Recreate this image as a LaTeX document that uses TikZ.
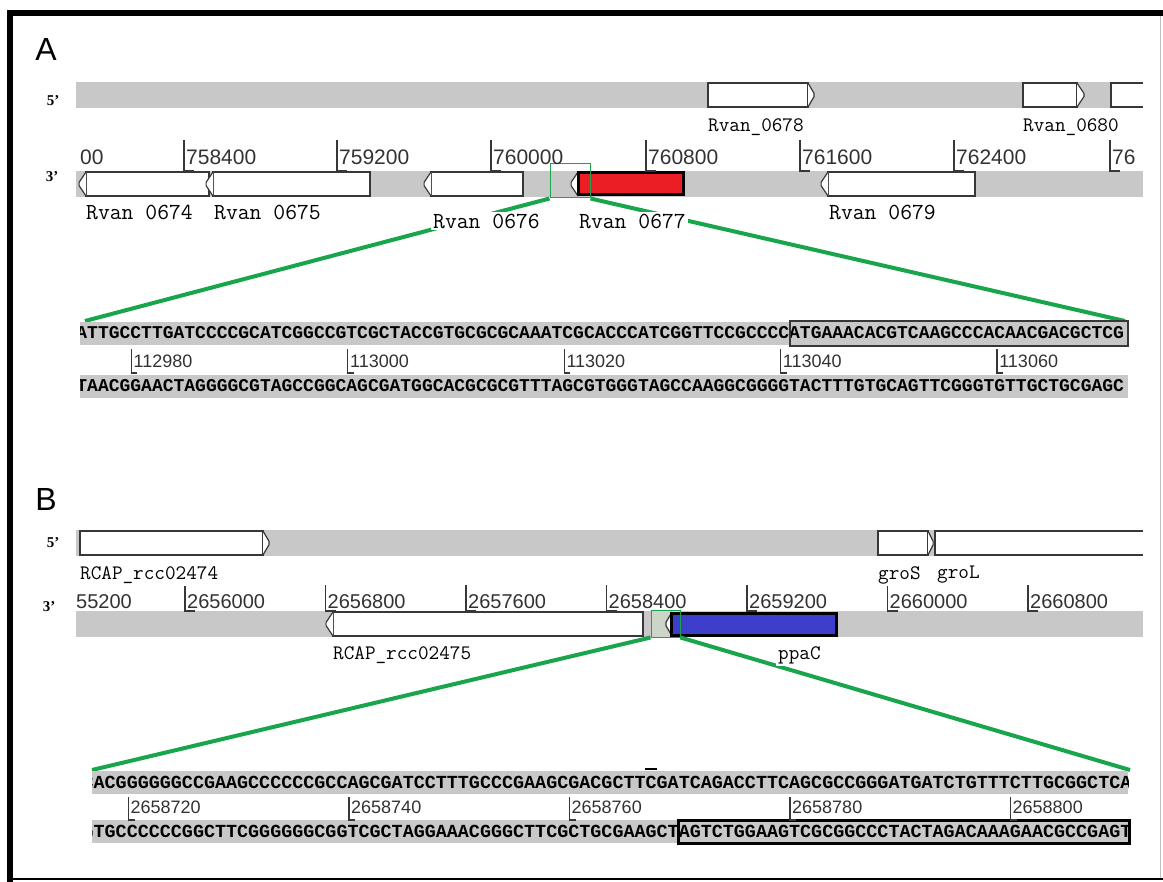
\documentclass[tikz,border=0pt]{standalone}
\usepackage{fontspec}
\setmainfont{Liberation Serif}
\setsansfont{Liberation Sans}
\setmonofont{Liberation Mono}
\newfontfamily\genefont{Latin Modern Mono}

\definecolor{strandgray}{RGB}{200,200,200}
\definecolor{geneline}{RGB}{55,55,55}
\definecolor{zoomgreen}{RGB}{25,165,75}
\definecolor{hitred}{RGB}{235,30,38}
\definecolor{hitblue}{RGB}{62,62,205}
\definecolor{ticktext}{RGB}{50,50,50}
\definecolor{boxfill}{RGB}{205,212,200}

\begin{document}
\begin{tikzpicture}[x=1pt,y=-1pt,
  strand/.style={fill=strandgray},
  gene/.style={draw=geneline,line width=1.4pt,fill=white},
  genetip/.style={draw=geneline,line width=1.2pt,fill=white,rounded corners=2pt},
  hitgene/.style={draw=black,line width=3pt},
  zoomline/.style={draw=zoomgreen,line width=4pt},
  zoombox/.style={draw=zoomgreen,line width=1pt,inner sep=0pt},
  tickmark/.style={draw=geneline,line width=1.2pt},
  ticklabel/.style={anchor=west,inner sep=1pt,text=ticktext,font=\sffamily\fontsize{20}{20}\selectfont},
  glabel/.style={anchor=west,inner sep=2pt,fill=white,font=\genefont\fontsize{20.6}{20.6}\selectfont},
  biglabel/.style={glabel,font=\genefont\fontsize{23}{23}\selectfont},
  seqtext/.style={anchor=base west,inner sep=0pt,font=\ttfamily\bfseries\fontsize{18}{18}\selectfont},
  strandlabel/.style={font=\rmfamily\bfseries\fontsize{15}{15}\selectfont},
  panel/.style={font=\sffamily\fontsize{32}{32}\selectfont}]

\useasboundingbox (0,0) rectangle (1163,882);

% frame
\draw[line width=6pt] (1163,13) -- (10,13) -- (10,882);
\draw[line width=2pt] (10,879) -- (1163,879);
\draw[black!25,line width=1pt] (1160,16) -- (1160,878);

%%%%%%%%%%%%%%%%%%%% A
\node[panel] (panA) at (46,49) {A};
\node[strandlabel] (a5) at (53,101) {5'};
\node[strandlabel] (a3) at (52,177) {3'};

\fill[strand] (76,82) rectangle (1143,108);
\fill[strand] (76,171) rectangle (1143,197);

% 5' strand genes
\draw[gene] (708,83) rectangle (808,107);
\draw[genetip] (808,83) -- (815,95) -- (808,107);
\draw[gene] (1023,83) rectangle (1077,107);
\draw[genetip] (1077,83) -- (1085,95) -- (1077,107);
\draw[gene] (1143,83) -- (1111,83) -- (1111,107) -- (1143,107);

% 3' strand genes
\foreach \a/\b in {86/209, 213/370, 431/523, 828/975}{
	\draw[gene] (\a,172) rectangle (\b,196);
	\draw[genetip] (\a,172) -- (\a-8,184) -- (\a,196);
}
% Rvan 0677
\draw[genetip] (578,172) -- (570,184) -- (578,196);
\draw[hitgene,fill=hitred] (578,173) rectangle (683,195);
\node[zoombox,minimum width=40,minimum height=34] (zoomA) at (570,181) {};

% ruler
\foreach \x/\n in {184/758400,337/759200,491/760000,646/760800,800/761600,954/762400}{
	\draw[tickmark] (\x,140) -- (\x,171) -- (\x+10,171);
	\node[ticklabel,font=\sffamily\fontsize{21}{21}\selectfont] (ta\n) at (\x+1,157) {\n};
}
\draw[tickmark] (1110,140) -- (1110,171) -- (1120,171);
\node[ticklabel,font=\sffamily\fontsize{21}{21}\selectfont] (ta76) at (1111,157) {76};
\node[ticklabel,font=\sffamily\fontsize{21}{21}\selectfont] (ta00) at (79,157) {00};

% sequence A
\coordinate (seqAnw) at (85,321);
\coordinate (seqAne) at (1125,321);
\draw[zoomline] (zoomA.south west) -- (seqAnw);
\draw[zoomline] (zoomA.south east) -- (seqAne);

\fill[strand] (80,322) rectangle (1128,345);
\fill[strand] (80,375) rectangle (1128,398);
\begin{scope}
\clip (80,300) rectangle (1128,420);
\node[seqtext] (seqAtop) at (76.2,339) {ATTGCCTTGATCCCCGCATCGGCCGTCGCTACCGTGCGCGCAAATCGCACCCATCGGTTCCGCCCCATGAAACACGTCAAGCCCACAACGACGCTCG};
\node[seqtext] (seqAbot) at (76.2,392) {TAACGGAACTAGGGGCGTAGCCGGCAGCGATGGCACGCGCGTTTAGCGTGGGTAGCCAAGGCGGGGTACTTTGTGCAGTTCGGGTGTTGCTGCGAGC};
\end{scope}
\draw[geneline,line width=1.5pt] (790,321) rectangle (1128,346);

\foreach \i/\n in {0/112980,1/113000,2/113020,3/113040,4/113060}{
	\draw[tickmark] (131.4+216.4*\i,349) -- (131.4+216.4*\i,373) -- (137.4+216.4*\i,373);
	\node[ticklabel,font=\sffamily\fontsize{18}{18}\selectfont] (sa\n) at (132.5+216.4*\i,361) {\n};
}

% gene names
\node[glabel] (n678) at (706,127) {Rvan\_0678};
\node[glabel] (n680) at (1021,127) {Rvan\_0680};
\node[biglabel] (n674) at (84,212) {Rvan 0674};
\node[biglabel] (n675) at (212,212) {Rvan 0675};
\node[biglabel] (n676) at (431,221) {Rvan 0676};
\node[biglabel] (n677) at (577,221) {Rvan 0677};
\node[biglabel] (n679) at (827,212) {Rvan 0679};

%%%%%%%%%%%%%%%%%%%% B
\node[panel] (panB) at (46,499) {B};
\node[strandlabel] (b5) at (53,543) {5'};
\node[strandlabel] (b3) at (49,607) {3'};

\fill[strand] (76,530) rectangle (1143,556);
\fill[strand] (76,611) rectangle (1143,637);

% 5' strand genes
\draw[gene] (80,531) rectangle (263,555);
\draw[genetip] (263,531) -- (270,543) -- (263,555);
\draw[gene] (878,531) rectangle (928,555);
\draw[genetip] (928,531) -- (934,543) -- (928,555);
\draw[gene] (1143,531) -- (935,531) -- (935,555) -- (1143,555);

% 3' strand genes
\fill[boxfill] (651,611) rectangle (680,637);
\draw[gene] (333,612) rectangle (643,636);
\draw[genetip] (333,612) -- (325,624) -- (333,636);
\draw[genetip] (672,612) -- (665,624) -- (672,636);
\draw[hitgene,fill=hitblue] (671,613) rectangle (836,635);
\node[zoombox,minimum width=29,minimum height=27] (zoomB) at (665.5,623.5) {};

% ruler
\foreach \i/\n in {0/2656000,1/2656800,2/2657600,3/2658400,4/2659200,5/2660000,6/2660800}{
	\draw[tickmark] (185+140.5*\i,585) -- (185+140.5*\i,611) -- (195+140.5*\i,611);
	\node[ticklabel] (tb\n) at (186+140.5*\i,602) {\n};
}
\node[ticklabel] (tb55) at (75,602) {55200};

% sequence B
\coordinate (seqBnw) at (92,770);
\coordinate (seqBne) at (1130,770);
\draw[zoomline] (zoomB.south west) -- (seqBnw);
\draw[zoomline] (zoomB.south east) -- (seqBne);

\fill[strand] (92,771) rectangle (1128,794);
\fill[strand] (92,820) rectangle (1128,843);
\begin{scope}
\clip (92,750) rectangle (1128,860);
\node[seqtext,font=\ttfamily\bfseries\fontsize{18.4}{18.4}\selectfont] (seqBtop) at (82.4,788) {CACGGGGGGCCGAAGCCCCCCGCCAGCGATCCTTTGCCCGAAGCGACGCTTCGATCAGACCTTCAGCGCCGGGATGATCTGTTTCTTGCGGCTCA};
\node[seqtext,font=\ttfamily\bfseries\fontsize{18.4}{18.4}\selectfont] (seqBbot) at (82.4,837) {GTGCCCCCCGGCTTCGGGGGGCGGTCGCTAGGAAACGGGCTTCGCTGCGAAGCTAGTCTGGAAGTCGCGGCCCTACTAGACAAAGAACGCCGAGT};
\end{scope}
\draw[line width=3pt] (678,820) rectangle (1129,843);
\draw[line width=2pt] (645,769) -- (657,769);

\foreach \i/\n in {0/2658720,1/2658740,2/2658760,3/2658780,4/2658800}{
	\draw[tickmark] (128.5+220.5*\i,797) -- (128.5+220.5*\i,820) -- (134.5+220.5*\i,820);
	\node[ticklabel,font=\sffamily\fontsize{18}{18}\selectfont] (sb\n) at (129.5+220.5*\i,807) {\n};
}

% gene names
\node[glabel] (n2474) at (78,575) {RCAP\_rcc02474};
\node[glabel] (ngroS) at (876,575) {groS};
\node[glabel] (ngroL) at (935,575) {groL};
\node[glabel] (n2475) at (331,655) {RCAP\_rcc02475};
\node[glabel] (nppaC) at (776,655) {ppaC};

\end{tikzpicture}
\end{document}
